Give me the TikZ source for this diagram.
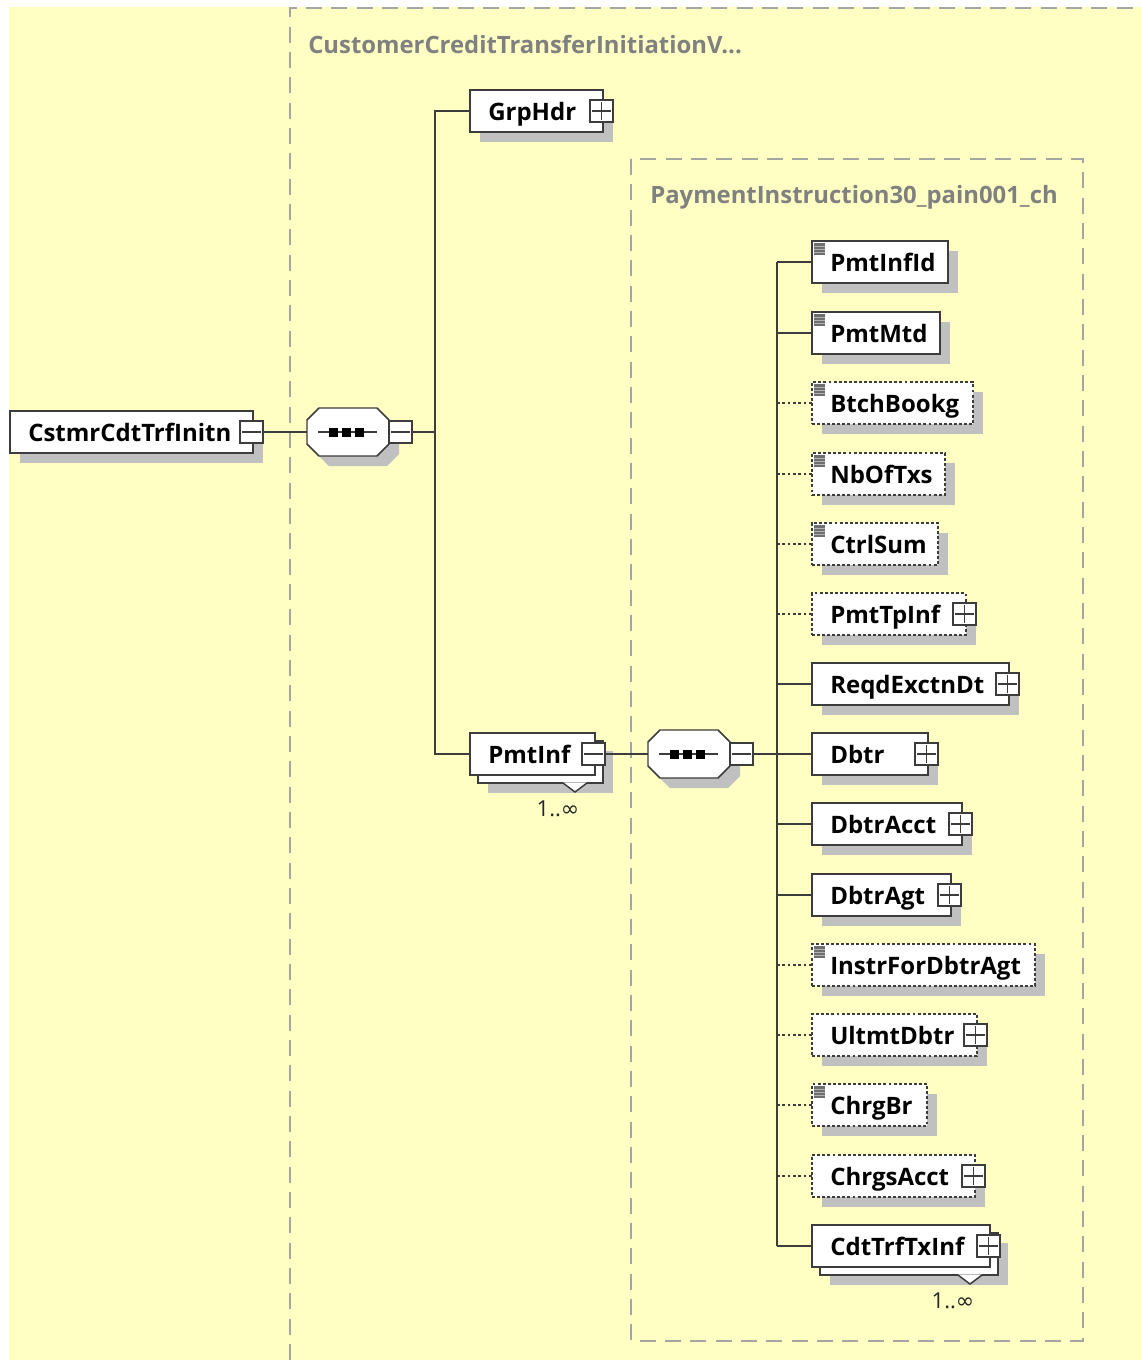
\documentclass[tikz,border=0pt]{standalone}
\usepackage{fontspec}
\setmainfont{Open Sans}
\newfontfamily\symfont{DejaVu Sans}
\usetikzlibrary{fit}
\definecolor{bgy}{HTML}{FFFFC4}
\definecolor{shd}{HTML}{C0C0C0}
\definecolor{edg}{HTML}{3C3C3C}
\definecolor{grpc}{HTML}{A6A6A0}
\definecolor{grpt}{HTML}{808080}
\definecolor{icn}{HTML}{6E6E6E}
\tikzset{
 ebx/.style={draw=edg, fill=white, line width=1.1pt, inner sep=0pt, outer sep=0pt},
 optb/.style={dash pattern=on 2.2pt off 1.6pt},
 shdw/.style={fill=shd},
 lbl/.style={font=\fontsize{18}{20}\selectfont\bfseries, text=black, inner sep=0pt, anchor=base west},
 grpl/.style={font=\fontsize{17.9}{20}\selectfont\bfseries, text=grpt, inner sep=0pt, anchor=base west},
 grp/.style={draw=grpc, line width=1.3pt, dash pattern=on 12pt off 7pt},
 conn/.style={draw=edg, line width=1.1pt},
 oconn/.style={draw=edg, line width=1.1pt, dash pattern=on 2pt off 2pt},
 mult/.style={font=\fontsize{16.5}{18}\selectfont, text=black!85, inner sep=0pt, anchor=base},
 sqr/.style={draw=edg, fill=white, line width=1pt, inner sep=0pt, outer sep=0pt},
 hook/.style={inner sep=0pt, outer sep=0pt},
}
% name, left, cy, right, extra style
\newcommand\ElemBox[5]{%
  \fill[shdw] ({#2+10},{#3-11}) rectangle ({#4+10},{#3+31});
  \node[ebx,#5,fit={({#2},{#3-21}) ({#4},{#3+21})}] (#1) {};
}
% stacked (multiple) element: name, left, cy, right
\newcommand\MultiBox[4]{%
  \fill[shdw] ({#2+18},{#3-3}) rectangle ({#4+18},{#3+39});
  \node[ebx,fit={({#2+8},{#3-13}) ({#4+8},{#3+29})}] (#1-back) {};
  \fill[white] ({#4-32},{#3+28.3}) -- ({#4-20},{#3+38}) -- ({#4-8},{#3+28.3}) -- cycle;
  \draw[edg, line width=1.1pt] ({#4-32},{#3+29}) -- ({#4-20},{#3+38}) -- ({#4-8},{#3+29});
  \node[ebx,fit={({#2},{#3-21}) ({#4},{#3+21})}] (#1) {};
  \node[mult] (#1-mult) at ({#4-37},{#3+62}) {1..{\symfont ∞}};
}
% name, left, cy, text
\newcommand\ElemLbl[4]{\node[lbl] (#1-t) at ({#2+18},{#3+9}) {#4};}
% name, right, cy
\newcommand\PlusSq[3]{%
  \node[sqr, fit={({#2-13},{#3-11}) ({#2+10},{#3+11})}] (#1) {};
  \draw[edg, line width=0.9pt] ({#2-11},{#3}) -- ({#2+8},{#3}) ({#2-1.5},{#3-9}) -- ({#2-1.5},{#3+9});
}
\newcommand\MinusSq[3]{%
  \node[sqr, fit={({#2-13},{#3-11}) ({#2+10},{#3+11})}] (#1) {};
  \draw[edg, line width=0.9pt] ({#2-11},{#3}) -- ({#2+8},{#3});
}
% simple type icon: left, cy
\newcommand\SimpIcon[2]{%
  \fill[icn] ({#1+2},{#2-19}) rectangle ({#1+13},{#2-7});
  \foreach \k in {-16,-13,-10} \draw[gray!60, line width=0.3pt] ({#1+2},{#2+\k}) -- ({#1+13},{#2+\k});
}
% sequence compositor: name, left, cy
\newcommand\SeqComp[3]{%
  \fill[shdw] ({#2+10},{#3-2}) -- ({#2+22},{#3-14}) -- ({#2+80},{#3-14}) -- ({#2+92},{#3-2}) -- ({#2+92},{#3+22}) -- ({#2+80},{#3+34}) -- ({#2+22},{#3+34}) -- ({#2+10},{#3+22}) -- cycle;
  \draw[ebx] ({#2},{#3-12}) -- ({#2+12},{#3-24}) -- ({#2+70},{#3-24}) -- ({#2+82},{#3-12}) -- ({#2+82},{#3+12}) -- ({#2+70},{#3+24}) -- ({#2+12},{#3+24}) -- ({#2},{#3+12}) -- cycle;
  \node[hook, fit={({#2},{#3-24}) ({#2+82},{#3+24})}] (#1) {};
  \draw[edg, line width=1.1pt] ({#2+11},{#3}) -- ({#2+70},{#3});
  \foreach \k in {22,35,48} \fill[black] ({#2+\k},{#3-4.5}) rectangle ({#2+\k+9},{#3+4.5});
  \MinusSq{#1-sq}{#2+95}{#3}
}
\begin{document}
\begin{tikzpicture}[x=0.75pt,y=-0.75pt]
\useasboundingbox (0,0) rectangle (1141,1360);
\fill[bgy] (9,7) rectangle (1141,1360);
% group boxes
\draw[grp] (290,1360) -- (290,8) -- (1141,8);
\draw[grp] (631,159) rectangle (1083,1341);
\node[grpl] (g1) at (308,53) {CustomerCreditTransferInitiationV...};
\node[grpl] (g2) at (650,203) {PaymentInstruction30\_pain001\_ch};

% root
\ElemBox{root}{10}{432}{253}{}
\ElemLbl{root}{10}{432}{CstmrCdtTrfInitn}
\MinusSq{root-sq}{253}{432}
\SeqComp{seq1}{307}{432}
\coordinate (b1) at (435,432);

% GrpHdr
\ElemBox{GrpHdr}{470}{111}{603}{}
\ElemLbl{GrpHdr}{470}{111}{GrpHdr}
\PlusSq{GrpHdr-sq}{603}{111}

% PmtInf
\MultiBox{PmtInf}{470}{754}{595}
\ElemLbl{PmtInf}{470}{754}{PmtInf}
\MinusSq{PmtInf-sq}{595}{754}
\SeqComp{seq2}{648}{754}
\coordinate (b2) at (777,754);

% children
\ElemBox{PmtInfId}{812}{262}{948}{}
\SimpIcon{812}{262}
\ElemLbl{PmtInfId}{812}{262}{PmtInfId}

\ElemBox{PmtMtd}{812}{333}{940}{}
\SimpIcon{812}{333}
\ElemLbl{PmtMtd}{812}{333}{PmtMtd}

\ElemBox{BtchBookg}{812}{403}{973}{optb}
\SimpIcon{812}{403}
\ElemLbl{BtchBookg}{812}{403}{BtchBookg}

\ElemBox{NbOfTxs}{812}{474}{945}{optb}
\SimpIcon{812}{474}
\ElemLbl{NbOfTxs}{812}{474}{NbOfTxs}

\ElemBox{CtrlSum}{812}{544}{938}{optb}
\SimpIcon{812}{544}
\ElemLbl{CtrlSum}{812}{544}{CtrlSum}

\ElemBox{PmtTpInf}{812}{614}{966}{optb}
\ElemLbl{PmtTpInf}{812}{614}{PmtTpInf}
\PlusSq{PmtTpInf-sq}{966}{614}

\ElemBox{ReqdExctnDt}{812}{684}{1009}{}
\ElemLbl{ReqdExctnDt}{812}{684}{ReqdExctnDt}
\PlusSq{ReqdExctnDt-sq}{1009}{684}

\ElemBox{Dbtr}{812}{754}{928}{}
\ElemLbl{Dbtr}{812}{754}{Dbtr}
\PlusSq{Dbtr-sq}{928}{754}

\ElemBox{DbtrAcct}{812}{824}{962}{}
\ElemLbl{DbtrAcct}{812}{824}{DbtrAcct}
\PlusSq{DbtrAcct-sq}{962}{824}

\ElemBox{DbtrAgt}{812}{895}{951}{}
\ElemLbl{DbtrAgt}{812}{895}{DbtrAgt}
\PlusSq{DbtrAgt-sq}{951}{895}

\ElemBox{InstrForDbtrAgt}{812}{965}{1035}{optb}
\SimpIcon{812}{965}
\ElemLbl{InstrForDbtrAgt}{812}{965}{InstrForDbtrAgt}

\ElemBox{UltmtDbtr}{812}{1035}{977}{optb}
\ElemLbl{UltmtDbtr}{812}{1035}{UltmtDbtr}
\PlusSq{UltmtDbtr-sq}{977}{1035}

\ElemBox{ChrgBr}{812}{1105}{927}{optb}
\SimpIcon{812}{1105}
\ElemLbl{ChrgBr}{812}{1105}{ChrgBr}

\ElemBox{ChrgsAcct}{812}{1176}{975}{optb}
\ElemLbl{ChrgsAcct}{812}{1176}{ChrgsAcct}
\PlusSq{ChrgsAcct-sq}{975}{1176}

\MultiBox{CdtTrfTxInf}{812}{1246}{990}
\ElemLbl{CdtTrfTxInf}{812}{1246}{CdtTrfTxInf}
\PlusSq{CdtTrfTxInf-sq}{990}{1246}

% connectors
\draw[conn] (root-sq.east) -- (seq1.west);
\draw[conn] (seq1-sq.east) -- (b1);
\draw[conn] (GrpHdr.west) -| (b1) |- (PmtInf.west);
\draw[conn] (PmtInf-sq.east) -- (seq2.west);
\draw[conn] (seq2-sq.east) -- (b2);
\draw[conn] (PmtInfId.west -| b2) -- (CdtTrfTxInf.west -| b2);
\foreach \n in {PmtInfId,PmtMtd,ReqdExctnDt,Dbtr,DbtrAcct,DbtrAgt,CdtTrfTxInf}
  \draw[conn] (\n.west -| b2) -- (\n.west);
\foreach \n in {BtchBookg,NbOfTxs,CtrlSum,PmtTpInf,InstrForDbtrAgt,UltmtDbtr,ChrgBr,ChrgsAcct}
  \draw[oconn] (\n.west -| b2) -- (\n.west);
\end{tikzpicture}
\end{document}
